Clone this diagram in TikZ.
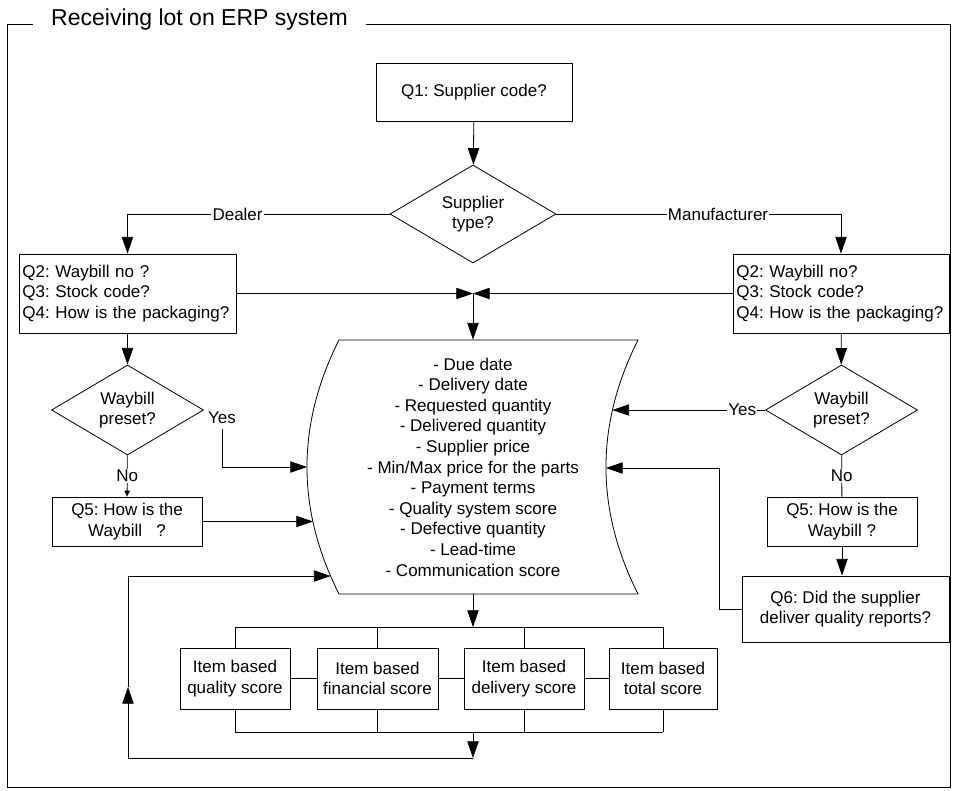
\documentclass[tikz,border=0pt]{standalone}
\usepackage{fontspec}
\setmainfont{Liberation Sans}
\usetikzlibrary{arrows.meta,shapes.geometric}
\frenchspacing

\begin{document}
\begin{tikzpicture}[x=0.75pt,y=-0.75pt,line width=0.6pt,
    font=\fontsize{12.75}{15.2}\selectfont,
    arr/.style={-{Triangle[length=12.5pt,width=8.5pt]}},
    smallarr/.style={-{Triangle[length=4.5pt,width=4pt]}},
    box/.style={draw,align=center,inner sep=0pt},
    listbox/.style={draw,align=left,inner xsep=2.5pt,text width=157.75pt,minimum height=59.25pt},
    ask/.style={draw,diamond,aspect=1.7,inner sep=0pt,align=center},
    lbl/.style={fill=white,inner sep=1pt}]
\useasboundingbox (0,0) rectangle (958,790);
\draw (7,24) rectangle (950,787);
\node[fill=white,inner xsep=13.5pt,anchor=base,font=\fontsize{17.25}{20}\selectfont] (title) at (199.5,25){Receiving lot on ERP system};
\node[box,minimum width=147pt,minimum height=43.5pt] (node) at (474,92){Q1: Supplier code?};
\node[ask,minimum width=124.5pt,minimum height=73.5pt] (node0) at (473,214){Supplier\\type?};
\node[listbox] (node00) at (127.5,293.5){Q2: Waybill no ?\\Q3: Stock code?\\Q4: How is the packaging?};
\node[listbox,text width=157pt] (node01) at (841,293.5){Q2: Waybill no?\\Q3: Stock code?\\Q4: How is the packaging?};
\node[ask,minimum width=114pt,minimum height=67.5pt] (node000) at (127.5,410){Waybill\\preset?};
\node[ask,minimum width=114pt,minimum height=67.5pt] (node010) at (841.5,410){Waybill\\preset?};
\node[box,minimum width=112.5pt,minimum height=36.75pt] (node0000) at (127,521.5){Q5: How is the\\Waybill\ \ \ ?};
\node[box,minimum width=112.5pt,minimum height=36.75pt] (node0100) at (842,521.5){Q5: How is the\\Waybill ?};
\node[box,minimum width=155.25pt,minimum height=49.5pt] (node01000) at (845.5,609){Q6: Did the supplier\\deliver quality reports?};
\node[align=center,minimum height=190.5pt,font=\fontsize{12.75}{15.45}\selectfont] (node1) at (473,467){- Due date\\- Delivery date\\- Requested quantity\\- Delivered quantity\\- Supplier price\\- Min/Max price for the parts\\- Payment terms\\- Quality system score\\- Defective quantity\\- Lead-time\\- Communication score};
\draw (339,340) -- (638,340) .. controls (595.3,424.7) and (595.3,509.3) .. (638,594) -- (339,594) .. controls (296.3,509.3) and (296.3,424.7) .. (339,340) -- cycle;
\node[box,minimum width=82.5pt,minimum height=45.75pt] (node10) at (235,678.5){Item based\\quality score};
\node[box,minimum width=90.75pt,minimum height=45.75pt] (node11) at (377.5,678.5){Item based\\financial score};
\node[box,minimum width=90pt,minimum height=45.75pt] (node12) at (524,678.5){Item based\\delivery score};
\node[box,minimum width=81pt,minimum height=45.75pt] (node13) at (663,678.5){Item based\\total score};
\node (yes0) at (222,418){Yes};
\coordinate (join) at (473,293.5);
\coordinate (bus0) at (473,627);
\coordinate (bus1) at (473,732);
\coordinate (loop0) at (473,758);
\coordinate (loop1) at (128,758);
\coordinate (loop2) at (128,687);
\coordinate (turn) at (719,468);
\coordinate (in1) at (307,467);
\coordinate (in2) at (313,521.5);
\coordinate (in3) at (330.6,576);
\coordinate (in4) at (612.4,410);
\coordinate (in5) at (606,468);
\draw[arr] (node) -- (node0);
\draw[arr] (node0.west) -| (node00.north) node[lbl,pos=0.29]{Dealer};
\draw[arr] (node0.east) -| (node01.north) node[lbl,pos=0.284]{Manufacturer};
\draw[arr] (node00.east) -- (join);
\draw[arr] (node01.west) -- (join);
\draw[arr] (join) -- (node1.north);
\draw[arr] (node00) -- (node000);
\draw[arr] (node01) -- (node010);
\draw[arr] (yes0.south) |- (in1);
\draw[smallarr] (node000) -- (node0000) node[lbl,midway]{No};
\draw[arr] (node0000) -- (in2);
\draw[arr] (node010) -- (in4) node[lbl,pos=0.15]{Yes};
\draw (node010) -- (node0100) node[lbl,midway]{No};
\draw[arr] (node0100.south) -- (node0100.south |- node01000.north);
\draw[arr] (node01000.west) -| (turn) -- (in5);
\draw[arr] (node1.south) -- (bus0);
\draw (node10.north |- bus0) -- (node13.north |- bus0);
\draw (node10.south |- bus1) -- (node13.south |- bus1);
\foreach \n in {10,11,12,13}{
    \draw (node\n.north) -- (node\n.north |- bus0);
    \draw (node\n.south) -- (node\n.south |- bus1);
}
\draw (node10) -- (node11);
\draw (node11) -- (node12);
\draw (node12) -- (node13);
\draw[arr] (bus1) -- (loop0);
\draw (loop0) -- (loop1);
\draw[arr] (loop1) -- (loop2);
\draw[arr] (loop2) |- (in3);
\end{tikzpicture}
\end{document}
